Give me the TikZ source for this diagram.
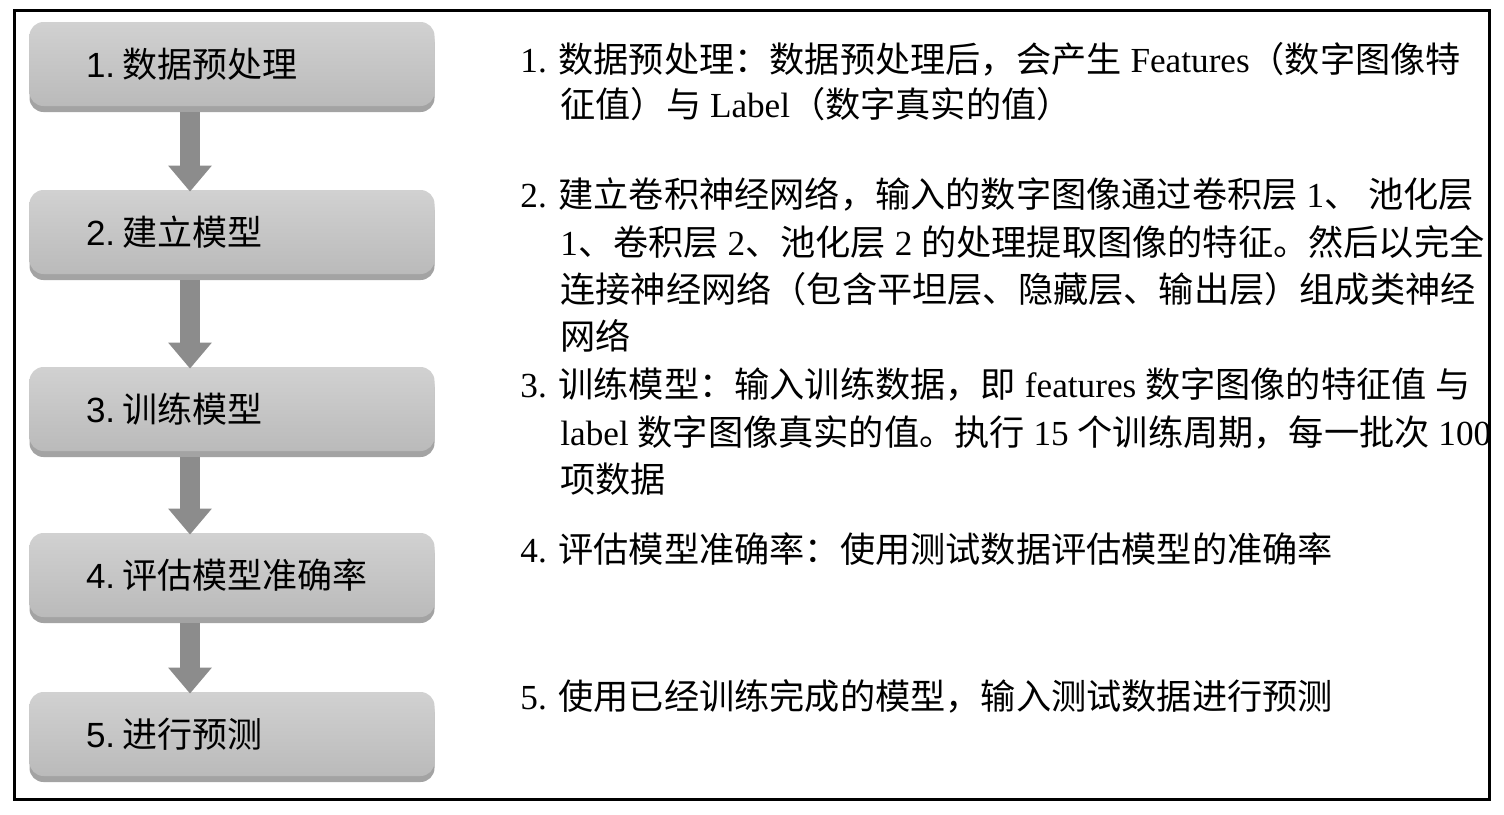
\documentclass[tikz,border=0pt]{standalone}
\usepackage{fontspec}
\setmainfont{Noto Sans CJK SC}
\newfontfamily\lser{Liberation Serif}
\newfontfamily\lsans{Liberation Sans}
\usetikzlibrary{arrows.meta,shadows}
\begin{document}
\begin{tikzpicture}[x=0.5pt,y=-0.5pt,
  stepbox/.style={rounded corners=7pt, top color=black!18, bottom color=black!27, draw=none,
    minimum width=202.5pt, minimum height=42pt, text width=146pt, inner xsep=28.25pt, align=left,
    font=\fontsize{17.5}{20}\selectfont,
    drop shadow={shadow xshift=0pt, shadow yshift=-3pt, fill=black!45, opacity=0.8}},
  flow/.style={draw=black!45, line width=10pt, -{Triangle[width=21pt,length=13pt]}},
  desc/.style={anchor=base west, inner sep=0pt, font=\fontsize{17.6}{20}\selectfont}
]
\useasboundingbox (0,0) rectangle (1504,814);

% boxes
\node[stepbox] (b1) at (232,64)  {{\lsans 1.}\hspace{3.5pt}数据预处理};
\node[stepbox] (b2) at (232,232) {{\lsans 2.}\hspace{3.5pt}建立模型};
\node[stepbox] (b3) at (232,409) {{\lsans 3.}\hspace{3.5pt}训练模型};
\node[stepbox] (b4) at (232,575) {{\lsans 4.}\hspace{3.5pt}评估模型准确率};
\node[stepbox] (b5) at (232,734) {{\lsans 5.}\hspace{3.5pt}进行预测};

% arrows
\draw[flow] ([xshift=-21pt,yshift=-3pt]b1.south) -- ([xshift=-21pt,yshift=-1pt]b2.north);
\draw[flow] ([xshift=-21pt,yshift=-3pt]b2.south) -- ([xshift=-21pt,yshift=-1pt]b3.north);
\draw[flow] ([xshift=-21pt,yshift=-3pt]b3.south) -- ([xshift=-21pt,yshift=-1pt]b4.north);
\draw[flow] ([xshift=-21pt,yshift=-3pt]b4.south) -- ([xshift=-21pt,yshift=-1pt]b5.north);

% description text
\begin{scope}
\clip (14,10) rectangle (1489,799);
\node[desc] (t1) at (520,72)  {{\lser 1. }数据预处理：数据预处理后，会产生{\lser\ Features}（数字图像特};
\node[desc] (t2) at (560,117) {征值）与{\lser\ Label}（数字真实的值）};
\node[desc] (t3) at (520,207) {{\lser 2. }建立卷积神经网络，输入的数字图像通过卷积层{\lser\ 1}、{\lser\ }池化层};
\node[desc] (t4) at (560,255) {{\lser 1}、卷积层{\lser\ 2}、池化层{\lser\ 2 }的处理提取图像的特征。然后以完全};
\node[desc] (t5) at (560,302) {连接神经网络（包含平坦层、隐藏层、输出层）组成类神经};
\node[desc] (t6) at (560,349) {网络};
\node[desc] (t7) at (520,397) {{\lser 3. }训练模型：输入训练数据，即{\lser\ features }数字图像的特征值{\lser\ }与};
\node[desc] (t8) at (560,445) {{\lser label }数字图像真实的值。执行{\lser\ 15 }个训练周期，每一批次{\lser\ 100}};
\node[desc] (t9) at (560,492) {项数据};
\node[desc] (t10) at (520,562) {{\lser 4. }评估模型准确率：使用测试数据评估模型的准确率};
\node[desc] (t11) at (520,709) {{\lser 5. }使用已经训练完成的模型，输入测试数据进行预测};
\end{scope}

% frame
\draw[line width=1.5pt] (14,10) rectangle (1489,799);
\end{tikzpicture}
\end{document}
